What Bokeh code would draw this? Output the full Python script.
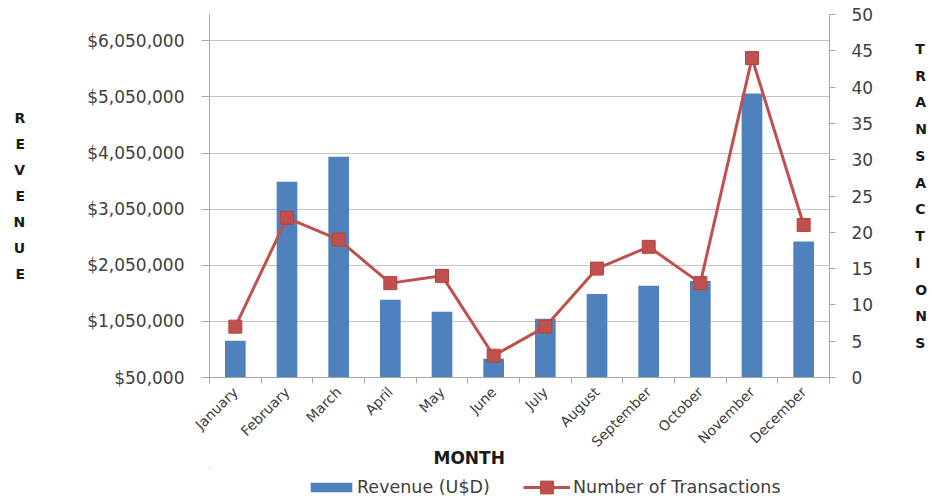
import numpy as np
from bokeh.plotting import figure
from bokeh.layouts import column
from bokeh.models import (Range1d, LinearAxis, FixedTicker, NumeralTickFormatter,
                          Legend, LegendItem, Title, ColumnDataSource)
from bokeh.embed import file_html
from bokeh.resources import INLINE

months = ["January", "February", "March", "April", "May", "June", "July",
          "August", "September", "October", "November", "December"]
revenue = [704000, 3540000, 3985000, 1436000, 1220000, 383000, 1097000,
           1540000, 1685000, 1770000, 5114000, 2475000]
transactions = [7, 22, 19, 13, 14, 3, 7, 15, 18, 13, 44, 21]

rev_min, rev_max, rev_step = 50000, 6520000, 1000000
rev_ticks = [rev_min + k * rev_step for k in range(7)]
trans_ticks = list(range(0, 51, 5))

FONT = "DejaVu Sans"
TXT = "#404040"
BLUE = "#4F81BD"
RED = "#C0504D"
RED_EDGE = "#B4443F"
AXC = "#A6A6A6"

xpos = np.arange(len(months)) + 0.5
src = ColumnDataSource(dict(x=xpos, month=months, rev=revenue, tr=transactions))

W, FW, FH = 932, 620, 363
LEFT, RIGHT, TOP, BOTTOM = 209, 103, 14, 90

p = figure(width=W, frame_width=FW, frame_height=FH, output_backend="svg",
           toolbar_location=None, x_range=Range1d(0, len(months)),
           y_range=Range1d(rev_min, rev_max),
           min_border_left=LEFT, min_border_right=RIGHT, min_border_top=TOP,
           min_border_bottom=BOTTOM, x_axis_location=None, y_axis_location=None)
p.outline_line_color = None
p.extra_y_ranges = {"tr": Range1d(0, 50)}

p.xgrid.visible = False
p.ygrid.ticker = FixedTicker(ticks=rev_ticks)
p.ygrid.grid_line_color = "#C4C4C4"

def style_axis(ax):
    ax.major_label_text_font = FONT
    ax.major_label_text_color = TXT
    ax.axis_line_color = AXC
    ax.major_tick_line_color = AXC
    ax.minor_tick_line_color = AXC
    ax.major_tick_in = 0
    ax.minor_tick_in = 0
    ax.minor_tick_out = 0

# left axis
ya = LinearAxis(ticker=FixedTicker(ticks=rev_ticks),
                formatter=NumeralTickFormatter(format="$0,0"))
style_axis(ya)
ya.major_label_text_font_size = "17px"
ya.major_tick_out = 8
ya.major_label_standoff = 17
ya.axis_label = "\n".join("REVENUE")
ya.axis_label_orientation = "horizontal"
ya.axis_label_text_font = FONT
ya.axis_label_text_font_style = "bold"
ya.axis_label_text_font_size = "14px"
ya.axis_label_text_color = "#1a1a1a"
ya.axis_label_text_line_height = 1.63
ya.axis_label_standoff = 59
p.add_layout(ya, "left")

# right axis
ra = LinearAxis(y_range_name="tr", ticker=FixedTicker(ticks=trans_ticks))
style_axis(ra)
ra.major_label_text_font_size = "17px"
ra.major_tick_out = 6
ra.major_label_standoff = 16
ra.axis_label = "\n".join("TRANSACTIONS")
ra.axis_label_orientation = "horizontal"
ra.axis_label_text_font = FONT
ra.axis_label_text_font_style = "bold"
ra.axis_label_text_font_size = "14px"
ra.axis_label_text_color = "#1a1a1a"
ra.axis_label_text_line_height = 1.67
ra.axis_label_standoff = 39
p.add_layout(ra, "right")

# bottom axis: labels at category centres, tick marks at category boundaries
xa = LinearAxis(ticker=FixedTicker(ticks=list(xpos),
                                   minor_ticks=list(range(len(months) + 1))))
style_axis(xa)
xa.major_label_overrides = {float(x): m for x, m in zip(xpos, months)}
xa.major_label_orientation = np.pi / 4
xa.major_label_text_font_size = "14px"
xa.major_tick_out = 0
xa.minor_tick_out = 6
xa.major_label_standoff = 6
p.add_layout(xa, "below")

p.add_layout(Title(text="MONTH", align="left", offset=224, standoff=-21,
                   vertical_align="top",
                   text_font=FONT, text_font_style="bold",
                   text_font_size="17px", text_color="#1a1a1a"), "below")

bars = p.vbar(x="x", top="rev", bottom=rev_min, width=0.4, source=src,
              fill_color=BLUE, line_color=None)
line = p.line(x="x", y="tr", source=src, y_range_name="tr",
              line_color=RED, line_width=3)
pts = p.scatter(x="x", y="tr", source=src, y_range_name="tr", marker="square",
                size=13, fill_color=RED, line_color=RED_EDGE, line_width=1)

# legend strip below the chart (same frame columns as the chart);
# its key renderers use the same data but lie outside this strip's ranges
H2 = 500 - (TOP + FH + BOTTOM)
p2 = figure(width=W, frame_width=FW, frame_height=H2, output_backend="svg",
            toolbar_location=None, x_range=Range1d(100, 101),
            y_range=Range1d(-2, -1),
            min_border_left=LEFT, min_border_right=RIGHT, min_border_top=0,
            min_border_bottom=0, x_axis_location=None, y_axis_location=None)
p2.outline_line_color = None
p2.grid.visible = False
lb = p2.vbar(x="x", top="rev", bottom=rev_min, width=0.4, source=src,
             fill_color=BLUE, line_color=None)
ll = p2.line(x="x", y="tr", source=src, line_color=RED, line_width=3)
lp = p2.scatter(x="x", y="tr", source=src, marker="square", size=13,
                fill_color=RED, line_color=RED_EDGE, line_width=1)

common = dict(orientation="horizontal", padding=0, margin=0,
              border_line_color=None, background_fill_alpha=0,
              label_text_font=FONT, label_text_font_size="17.5px",
              label_text_color=TXT, label_height=20)
leg_rev = Legend(items=[LegendItem(label="Revenue (U$D)", renderers=[lb])],
                 location=(96, 3), glyph_width=52, glyph_height=12,
                 label_standoff=0, **common)
leg_tr = Legend(items=[LegendItem(label="Number of Transactions", renderers=[ll, lp])],
                location=(314, -3), glyph_width=47, glyph_height=32,
                label_standoff=3, **common)
p2.add_layout(leg_rev, "center")
p2.add_layout(leg_tr, "center")

open("out.html", "w").write(file_html(column(p, p2), INLINE))
